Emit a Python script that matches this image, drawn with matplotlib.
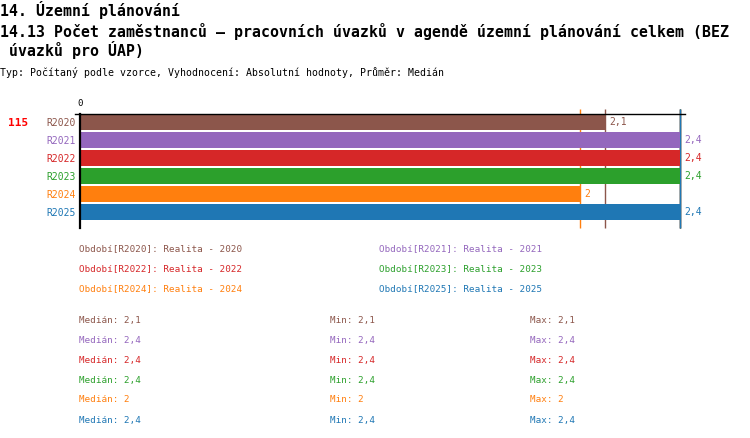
import matplotlib
matplotlib.use("Agg")
import matplotlib.pyplot as plt

# ----------------------------- data -----------------------------
periods = ["R2020", "R2021", "R2022", "R2023", "R2024", "R2025"]
years = ["2020", "2021", "2022", "2023", "2024", "2025"]
values = [2.1, 2.4, 2.4, 2.4, 2.0, 2.4]
value_labels = ["2,1", "2,4", "2,4", "2,4", "2", "2,4"]
medians = [2.1, 2.4, 2.4, 2.4, 2.0, 2.4]
mins = ["2,1", "2,4", "2,4", "2,4", "2", "2,4"]
maxs = ["2,1", "2,4", "2,4", "2,4", "2", "2,4"]
colors = ["#8c564b", "#9467bd", "#d62728", "#2ca02c", "#ff7f0e", "#1f77b4"]
count_label = "115"

W, H = 750, 438
MONO = "DejaVu Sans Mono"
plt.rcParams["font.family"] = [MONO]


def fx(x):
    return x / W


def fy(y):
    return 1 - y / H


fig = plt.figure(figsize=(W / 100, H / 100), dpi=100)

# ----------------------------- titles -----------------------------
fig.text(fx(0), fy(10), "14. Územní plánování", fontsize=10.75, fontweight="bold", va="center")
fig.text(fx(0), fy(31), "14.13 Počet zaměstnanců – pracovních úvazků v agendě územní plánování celkem (BEZ",
         fontsize=10.75, fontweight="bold", va="center")
fig.text(fx(0), fy(50), " úvazků pro ÚAP)", fontsize=10.75, fontweight="bold", va="center")
fig.text(fx(0), fy(73), "Typ: Počítaný podle vzorce, Vyhodnocení: Absolutní hodnoty, Průměr: Medián",
         fontsize=7.1, va="center")

# ----------------------------- bars -----------------------------
x0, x1 = 80, 685      # px for value 0 and right end
top, bot = 114, 228
ppu = 250.0           # px per unit
pitch = 18.0
ax = fig.add_axes([fx(x0), fy(bot), (x1 - x0) / W, (bot - top) / H])
ax.set_xlim(0, (x1 - x0) / ppu)
ax.set_ylim((bot - 122) / pitch, -(122 - top) / pitch)

ypos = list(range(len(periods)))
ax.barh(ypos, values, height=16 / pitch, color=colors, zorder=2)

for i, (v, lab, c) in enumerate(zip(values, value_labels, colors)):
    ax.annotate(lab, (v, i), xytext=(3, 0), textcoords="offset points",
                va="center", ha="left", color=c, fontsize=7)

# median markers sit behind the bars
ytop_ext = -(122 - 109) / pitch
for m, c in zip(medians, colors):
    ax.vlines(m, ytop_ext, (bot - 122) / pitch, color=c, lw=1, zorder=1, clip_on=False)

for s in ["right", "bottom"]:
    ax.spines[s].set_visible(False)
ax.spines["left"].set_linewidth(1.6)
ax.spines["top"].set_linewidth(1.0)
ax.set_xticks([])
ax.set_yticks(ypos)
ax.set_yticklabels(periods, fontsize=7)
for t, c in zip(ax.get_yticklabels(), colors):
    t.set_color(c)
ax.tick_params(axis="y", length=0, pad=3)
ax.plot([-5 / ppu, 0], [ax.get_ylim()[1]] * 2, color="black", lw=1, clip_on=False)

fig.text(fx(80), fy(103), "0", fontsize=6.5, ha="center", va="center")
fig.text(fx(8), fy(123), count_label, fontsize=8, fontweight="bold", color="red", va="center")

# ----------------------------- legend -----------------------------
for i, (p, yr, c) in enumerate(zip(periods, years, colors)):
    col, row = i % 2, i // 2
    fig.text(fx(79 + 300 * col), fy(249 + 20 * row), f"Období[{p}]: Realita - {yr}",
             fontsize=6.7, color=c, va="center")

# ----------------------------- stats -----------------------------
for i, (m, mn, mx, c) in enumerate(zip(value_labels, mins, maxs, colors)):
    y = fy(320 + 20 * i)
    fig.text(fx(79), y, f"Medián: {m}", fontsize=6.7, color=c, va="center")
    fig.text(fx(330), y, f"Min: {mn}", fontsize=6.7, color=c, va="center")
    fig.text(fx(530), y, f"Max: {mx}", fontsize=6.7, color=c, va="center")

fig.savefig("out.png", dpi=100)
